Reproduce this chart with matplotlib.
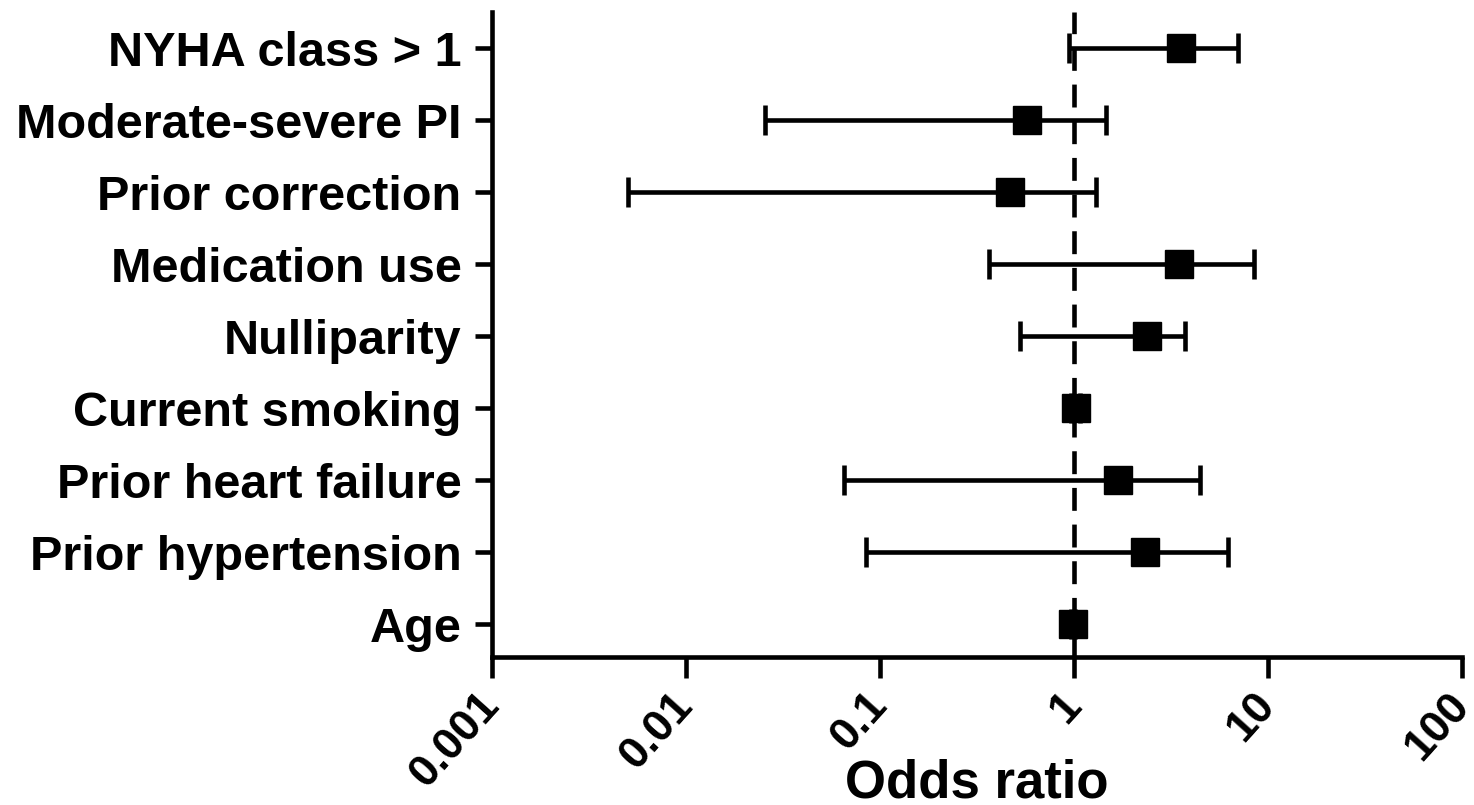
import matplotlib
matplotlib.use("Agg")
import matplotlib.pyplot as plt
import numpy as np

labels = ["NYHA class > 1", "Moderate-severe PI", "Prior correction", "Medication use",
          "Nulliparity", "Current smoking", "Prior heart failure", "Prior hypertension", "Age"]
odds = [3.55, 0.57, 0.47, 3.48, 2.38, 1.02, 1.69, 2.32, 0.99]
ci_low = [0.94, 0.0255, 0.0050, 0.365, 0.527, 0.97, 0.065, 0.085, 0.97]
ci_high = [7.0, 1.46, 1.30, 8.47, 3.73, 1.07, 4.46, 6.22, 1.01]
xticks = [0.001, 0.01, 0.1, 1, 10, 100]
xticklabels = ["0.001", "0.01", "0.1", "1", "10", "100"]

plt.rcParams['font.family'] = ['Liberation Sans', 'DejaVu Sans']
plt.rcParams['font.weight'] = 'bold'

fig = plt.figure(figsize=(14.74, 8.05), dpi=100)
ax = fig.add_axes([492/1474, 1-657/805, (1462-492)/1474, (657-12)/805])

n = len(labels)
y = np.arange(n)
odds_a = np.array(odds)
err = np.vstack([odds_a - np.array(ci_low), np.array(ci_high) - odds_a])

ax.axvline(1, color='black', lw=3.3, linestyle=(0, (5, 3)), zorder=1)
ax.errorbar(odds_a, y, xerr=err, fmt='s', color='black', ms=20, elinewidth=3.3,
            capsize=10.5, capthick=3.3, zorder=3)

ax.set_xscale('log')
ax.set_xlim(0.001, 100)
ax.set_ylim(n - 1 + 33/72, -0.5)
ax.set_yticks(y)
ax.set_yticklabels(labels, fontsize=35, fontweight='bold')
ax.set_xticks(xticks)
ax.set_xticklabels(xticklabels, fontsize=32, fontweight='bold', rotation=48,
                   ha='right', va='center', rotation_mode='anchor')
ax.xaxis.set_minor_locator(matplotlib.ticker.NullLocator())
ax.set_xlabel("Odds ratio", fontsize=38, fontweight='bold')
ax.xaxis.set_label_coords(0.5, -0.157)

for s in ['top', 'right']:
    ax.spines[s].set_visible(False)
for s in ['left', 'bottom']:
    ax.spines[s].set_linewidth(3.3)
ax.tick_params(axis='y', length=12, width=3.3, pad=10)
ax.tick_params(axis='x', length=15, width=3.3, pad=15)

fig.savefig("out.png", dpi=100)
